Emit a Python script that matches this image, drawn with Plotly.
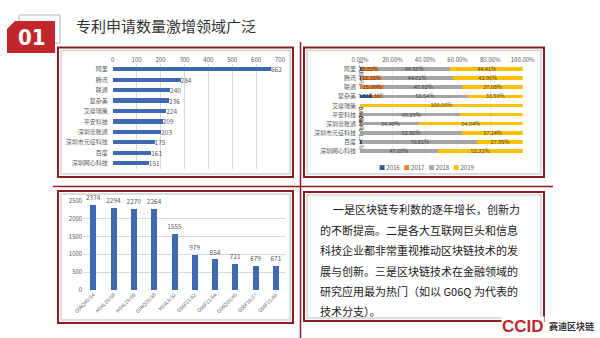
import plotly.graph_objects as go

# ---------------- data ----------------
companies = ["阿里", "腾讯", "联通", "复杂美", "艾摩瑞策", "平安科技", "深圳壹账通",
             "深圳市元征科技", "百度", "深圳网心科技"]
patent_counts = [662, 284, 240, 236, 224, 209, 203, 175, 161, 151]

years = ["2016", "2017", "2018", "2019"]
share_2016 = [1.21, 0.70, 0.00, 7.20, 0.00, 0.48, 0.49, 0.00, 1.24, 0.00]
share_2017 = [9.82, 12.32, 15.00, 6.36, 0.00, 0.96, 0.99, 0.00, 0.00, 0.00]
share_2018 = [44.56, 44.01, 47.92, 52.54, 0.00, 60.29, 34.48, 62.86, 70.81, 47.68]
share_2019 = [44.41, 42.96, 37.08, 33.90, 100.00, 38.28, 64.04, 37.14, 27.95, 52.32]
share_ticks = [0, 20, 40, 60, 80, 100]
share_ticktext = ["0.00%", "20.00%", "40.00%", "60.00%", "80.00%", "100.00%"]

ipc_codes = ["G06Q40/04", "H04L29/08", "H04L29/06", "G06Q20/38", "H04L9/32",
             "G06F21/62", "G06F21/64", "G06Q20/40", "G06F16/27", "G06F21/60"]
ipc_counts = [2374, 2294, 2270, 2264, 1555, 979, 854, 721, 679, 671]

title_text = "专利申请数量激增领域广泛"
body_lines = [
    "一是区块链专利数的逐年增长，创新力",
    "的不断提高。二是各大互联网巨头和信息",
    "科技企业都非常重视推动区块链技术的发",
    "展与创新。三是区块链技术在金融领域的",
    "研究应用最为热门（如以 G06Q 为代表的",
    "技术分支）。",
]

# ---------------- helpers ----------------
W, H = 600, 338
def P(x):
    return x / W
def Q(y):
    return 1 - y / H

CJK = "Noto Sans CJK SC, Noto Sans, sans-serif"
DARKRED = "#8c1c22"
RED = "#c0272d"
BLUE = "#3f68b5"
year_colors = ["#2f5597", "#ed7d31", "#a5a5a5", "#ffc000"]
GRID = "#d9d9d9"
TICK = "#595959"

fig = go.Figure()

# top-left horizontal bars
fig.add_trace(go.Bar(
    x=patent_counts, y=companies, orientation="h", xaxis="x", yaxis="y",
    marker=dict(color=BLUE, line=dict(width=0)), width=0.4,
    text=patent_counts, textposition="outside", cliponaxis=False,
    textfont=dict(size=6.5, color=TICK, family=CJK), showlegend=False,
    hoverinfo="skip"))

# top-right stacked 100% bars
for yr, vals, col in zip(years, [share_2016, share_2017, share_2018, share_2019], year_colors):
    fig.add_trace(go.Bar(
        x=vals, y=companies, orientation="h", xaxis="x2", yaxis="y2",
        name=yr, marker=dict(color=col, line=dict(width=0)), width=0.38,
        text=[f"{v:.2f}%" if v > 0 else "" for v in vals],
        textposition="inside", insidetextanchor="middle", constraintext="none",
        textfont=dict(size=5.5, color="#404040", family=CJK),
        cliponaxis=False, showlegend=False, hoverinfo="skip"))

# bottom-left vertical bars
fig.add_trace(go.Bar(
    x=ipc_codes, y=ipc_counts, xaxis="x3", yaxis="y3",
    marker=dict(color=BLUE, line=dict(width=0)), width=0.3,
    text=ipc_counts, textposition="outside", cliponaxis=False,
    textfont=dict(size=6.5, color=TICK, family=CJK), showlegend=False,
    hoverinfo="skip"))

axis_common = dict(automargin=False, showline=False, zeroline=False, ticks="",
                   tickfont=dict(size=6, color=TICK, family=CJK), fixedrange=True)

fig.update_layout(
    width=W, height=H, autosize=False,
    margin=dict(l=0, r=0, t=0, b=0),
    paper_bgcolor="white", plot_bgcolor="rgba(0,0,0,0)",
    barmode="stack",
    uniformtext=dict(minsize=5, mode="show"),
    xaxis=dict(domain=[P(112.7), P(280)], anchor="y", side="top", range=[0, 700],
               dtick=100, showgrid=True, gridcolor=GRID, gridwidth=0.6, **axis_common),
    yaxis=dict(domain=[Q(168.5), Q(64)], anchor="x", type="category",
               autorange="reversed", showgrid=False, ticklabelstandoff=4, **axis_common),
    xaxis2=dict(domain=[P(360), P(522.7)], anchor="y2", side="top", range=[0, 100],
                tickvals=share_ticks, ticktext=share_ticktext, showgrid=True,
                gridcolor="#eeeeee", gridwidth=0.5, **axis_common),
    yaxis2=dict(domain=[Q(155.6), Q(64.4)], anchor="x2", type="category",
                autorange="reversed", showgrid=False, ticklabelstandoff=3, **axis_common),
    xaxis3=dict(domain=[P(83.2), P(286.2)], anchor="y3", type="category",
                tickangle=-45, showgrid=False,
                **{**axis_common, "tickfont": dict(size=5, color=TICK, family=CJK)}),
    yaxis3=dict(domain=[Q(290), Q(200.7)], anchor="x3", range=[0, 2500], dtick=500,
                showgrid=True, gridcolor=GRID, gridwidth=0.6, **axis_common),
)

shapes = []
def box(x0, y0, x1, y1):
    shapes.append(dict(type="rect", xref="paper", yref="paper",
                       x0=P(x0 + 3), x1=P(x1 - 3), y0=Q(y1 - 3), y1=Q(y0 + 3),
                       line=dict(color="#d8cfcf", width=1.5), layer="below"))
    shapes.append(dict(type="rect", xref="paper", yref="paper",
                       x0=P(x0), x1=P(x1), y0=Q(y1), y1=Q(y0),
                       line=dict(color=DARKRED, width=2), layer="below"))

box(58, 47.5, 293, 177)
box(304, 47.5, 544, 177)
box(58, 191, 293, 323)
box(304, 192, 544, 321)

# separator lines
shapes.append(dict(type="line", xref="paper", yref="paper",
                   x0=P(53), x1=P(553), y0=Q(186.5), y1=Q(186.5),
                   line=dict(color=DARKRED, width=1.5)))
shapes.append(dict(type="line", xref="paper", yref="paper",
                   x0=P(300.5), x1=P(300.5), y0=Q(338), y1=Q(42),
                   line=dict(color=DARKRED, width=1.5)))

# title badge
shapes.append(dict(type="rect", xref="paper", yref="paper",
                   x0=P(19), x1=P(60), y0=Q(43), y1=Q(15),
                   line=dict(color="#b5b5b5", width=1)))
badge = "M {} {} L {} {} L {} {} L {} {} L {} {} Z".format(
    P(15), Q(21), P(55), Q(21), P(55), Q(53), P(7), Q(53), P(7), Q(29))
shapes.append(dict(type="path", xref="paper", yref="paper", path=badge,
                   fillcolor=RED, line=dict(width=0)))

fig.update_layout(shapes=shapes)

ann = []
ann.append(dict(x=P(31.5), y=Q(37), xref="paper", yref="paper", text="<b>01</b>",
                showarrow=False, xanchor="center", yanchor="middle",
                font=dict(size=22, color="white",
                          family="Liberation Sans Narrow, DejaVu Sans Condensed, Arial Narrow, sans-serif")))
ann.append(dict(x=P(74), y=Q(25.5), xref="paper", yref="paper", text=title_text,
                showarrow=False, xanchor="left", yanchor="middle",
                font=dict(size=15, color="#333333", family=CJK)))

# manual legend for stacked chart
legend_txt = "   ".join(
    f"<span style='color:{c}'>■</span> {y}" for y, c in zip(years, year_colors))
ann.append(dict(x=P(426), y=Q(167), xref="paper", yref="paper", text=legend_txt,
                showarrow=False, xanchor="center", yanchor="middle",
                font=dict(size=6, color=TICK, family=CJK)))

# body text
line_y = [208.5, 230, 250.5, 270.5, 290.5, 310.5]
for i, (t, yy) in enumerate(zip(body_lines, line_y)):
    ann.append(dict(x=P(331 if i == 0 else 318), y=Q(yy), xref="paper", yref="paper",
                    text=t, showarrow=False, xanchor="left", yanchor="middle",
                    font=dict(size=11, color="#1a1a1a", family=CJK)))

# logo
ann.append(dict(x=P(545), y=Q(326), xref="paper", yref="paper", text="<b>CCID</b>",
                showarrow=False, xanchor="right", yanchor="middle", bgcolor="white",
                borderpad=0,
                font=dict(size=17, color=RED, family="Liberation Sans, Arial, sans-serif")))
ann.append(dict(x=P(547), y=Q(326), xref="paper", yref="paper", text="<b>赛迪区块链</b>",
                showarrow=False, xanchor="left", yanchor="middle",
                font=dict(size=9, color="#333333", family=CJK)))

fig.update_layout(annotations=ann)

fig.write_html("out.html")
